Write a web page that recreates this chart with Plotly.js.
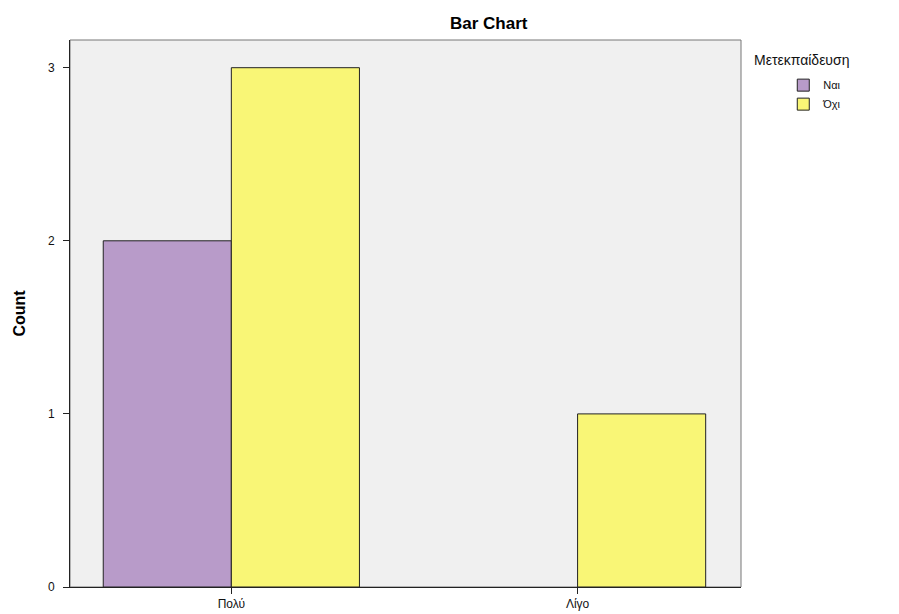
<!DOCTYPE html>
<html><head><meta charset="utf-8">
<script src="https://cdn.plot.ly/plotly-3.0.1.min.js"></script>
<style>body{margin:0;background:#fff}#c{width:899px;height:614px}</style>
</head><body><div id="c"></div>
<script>
const categories = ["Πολύ", "Λίγο"];
const seriesNames = ["Ναι", "Όχι"];
const naiCounts = [2, null];
const oxiCounts = [3, 1];
const yTicks = [0, 1, 2, 3];
const legendTitle = "Μετεκπαίδευση";

const colors = ["#B89BC9", "#F9F676"];
const traces = [naiCounts, oxiCounts].map((vals, i) => ({
  type: "bar", x: categories, y: vals, name: seriesNames[i],
  marker: {color: colors[i], line: {color: "#222", width: 1}},
  hoverinfo: "none"
}));

const layout = {
  width: 899, height: 614,
  margin: {l: 70, r: 158, t: 40, b: 27},
  paper_bgcolor: "#fff", plot_bgcolor: "#F0F0F0",
  barmode: "group", bargap: 0.26, bargroupgap: 0,
  font: {family: "Liberation Sans, Arial, sans-serif", color: "#111", size: 11},
  title: {text: "<b>Bar Chart</b>", font: {size: 17, color: "#000"}, x: 0.624, xref: "paper", xanchor: "center", y: 0.963, yanchor: "middle"},
  xaxis: {type: "category", range: [-0.466, 1.472], showgrid: false, zeroline: false,
    showline: true, linecolor: "#222", linewidth: 1, ticks: "outside", ticklen: 6, tickcolor: "#222",
    tickfont: {size: 12, color: "#111"}},
  yaxis: {range: [0, 3.16], tickvals: yTicks, showgrid: false, zeroline: false,
    showline: true, linecolor: "#222", linewidth: 1, ticks: "outside", ticklen: 6, tickcolor: "#222",
    ticklabelstandoff: 6,
    tickfont: {size: 12, color: "#111"},
    title: {text: "<b>Count</b>", font: {size: 16, color: "#000"}, standoff: 18}},
  shapes: [{type: "rect", xref: "paper", yref: "paper", x0: 0, x1: 1, y0: 0, y1: 1,
    line: {color: "#777", width: 1}, fillcolor: "rgba(0,0,0,0)", layer: "below"}],
  annotations: [{text: legendTitle, xref: "paper", yref: "paper", x: 1.016, y: 0.964,
    xanchor: "left", yanchor: "middle", showarrow: false, font: {size: 14, color: "#111"}}],
  legend: {x: 1.063, y: 0.944, xanchor: "left", yanchor: "top",
    font: {size: 11, color: "#111"}, itemwidth: 30, tracegroupgap: 0, bgcolor: "rgba(0,0,0,0)"},
  showlegend: true
};
Plotly.newPlot("c", traces, layout, {displayModeBar: false, staticPlot: true});
</script></body></html>
